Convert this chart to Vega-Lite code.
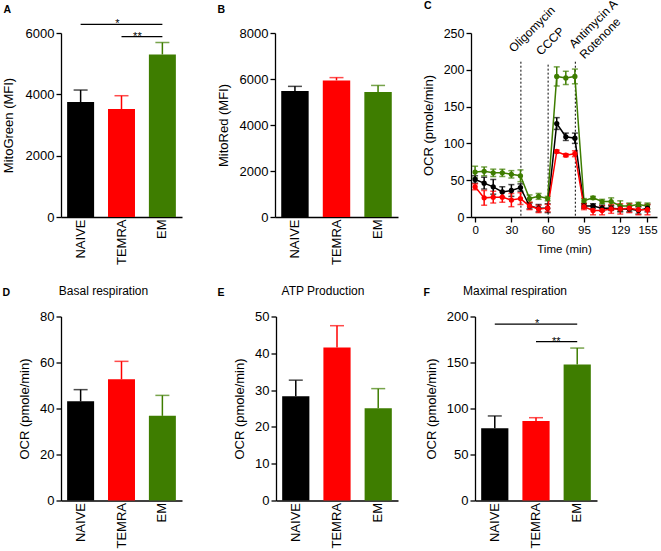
{
  "$schema": "https://vega.github.io/schema/vega-lite/v6.json",
  "padding": {"left": 2, "top": -4, "right": 2, "bottom": 2},
  "background": "white",
  "spacing": 19.5,
  "config": {
    "font": "Liberation Sans",
    "view": {"stroke": null},
    "axis": {"grid": false, "domainColor": "#000", "domainWidth": 1.3, "tickColor": "#000", "tickWidth": 1.3, "tickSize": 5, "labelColor": "#000", "titleColor": "#000", "titleFontWeight": "normal", "labelFontSize": 13, "titleFontSize": 13, "labelPadding": 2, "titlePadding": 7, "labelOverlap": false, "labelFlush": false},
    "title": {"color": "#000"}
  },
  "vconcat": [
    {
      "spacing": 35,
      "hconcat": [
        {
          "width": 121, "height": 184,
          "layer": [
            {
              "data": {"values": [{"group": "NAIVE", "mean": 3750, "top": 4140}, {"group": "TEMRA", "mean": 3520, "top": 3955}, {"group": "EM", "mean": 5300, "top": 5690}]},
              "encoding": {
                "x": {"field": "group", "type": "nominal", "scale": {"domain": ["NAIVE", "TEMRA", "EM"], "paddingInner": 0.34, "paddingOuter": 0.15}, "axis": {"title": "A", "titleX": -58, "titleY": -205, "titleAngle": 0, "titleAlign": "left", "titleBaseline": "alphabetic", "titleFontWeight": "bold", "titleFontSize": 10.5, "labelAngle": -90, "ticks": false, "tickSize": 0, "labelPadding": 2}},
                "color": {"field": "group", "type": "nominal", "scale": {"domain": ["NAIVE", "TEMRA", "EM"], "range": ["#000000", "#ff0000", "#3e7d00"]}, "legend": null}
              },
              "layer": [
                {"mark": {"type": "bar"}, "encoding": {"y": {"field": "mean", "type": "quantitative", "scale": {"domain": [0, 6000], "nice": false}, "axis": {"values": [0, 2000, 4000, 6000], "tickCount": 10, "format": "d", "title": "MitoGreen (MFI)", "titlePadding": 10}}}},
                {"mark": {"type": "rule", "strokeWidth": 1.5}, "encoding": {"y": {"field": "mean", "type": "quantitative", "title": "MitoGreen (MFI)"}, "y2": {"field": "top"}}},
                {"mark": {"type": "tick", "thickness": 1.5, "size": 14}, "encoding": {"y": {"field": "top", "type": "quantitative", "title": "MitoGreen (MFI)"}}}
              ]
            },
            {
              "data": {"values": [{"from": "NAIVE", "to": "EM", "y": 6280, "label": "*"}, {"from": "TEMRA", "to": "EM", "y": 5880, "label": "**"}]},
              "layer": [
                {"mark": {"type": "rule", "strokeWidth": 1.2, "color": "#000"}, "encoding": {
                  "x": {"field": "from", "type": "nominal", "title": "A"}, "x2": {"field": "to"},
                  "y": {"field": "y", "type": "quantitative", "title": "MitoGreen (MFI)"}}},
                {"transform": [{"filter": "datum.label == '*'"}], "mark": {"type": "text", "dx": -45, "dy": 3, "fontSize": 11, "baseline": "alphabetic", "color": "#000"}, "encoding": {
                  "x": {"field": "to", "type": "nominal", "title": "A"},
                  "y": {"field": "y", "type": "quantitative", "title": "MitoGreen (MFI)"}, "text": {"field": "label"}}},
                {"transform": [{"filter": "datum.label == '**'"}], "mark": {"type": "text", "dx": -25, "dy": 3, "fontSize": 11, "baseline": "alphabetic", "color": "#000"}, "encoding": {
                  "x": {"field": "to", "type": "nominal", "title": "A"},
                  "y": {"field": "y", "type": "quantitative", "title": "MitoGreen (MFI)"}, "text": {"field": "label"}}}
              ]
            }
          ]
        },
        {
          "bounds": "flush",
          "spacing": 73,
          "hconcat": [
            {
              "width": 123, "height": 184,
              "data": {"values": [{"group": "NAIVE", "mean": 5480, "top": 5680}, {"group": "TEMRA", "mean": 5940, "top": 6060}, {"group": "EM", "mean": 5440, "top": 5720}]},
              "encoding": {
                "x": {"field": "group", "type": "nominal", "scale": {"domain": ["NAIVE", "TEMRA", "EM"], "paddingInner": 0.34, "paddingOuter": 0.15}, "axis": {"title": "B", "titleX": -58, "titleY": -205, "titleAngle": 0, "titleAlign": "left", "titleBaseline": "alphabetic", "titleFontWeight": "bold", "titleFontSize": 10.5, "labelAngle": -90, "ticks": false, "tickSize": 0, "labelPadding": 2}},
                "color": {"field": "group", "type": "nominal", "scale": {"domain": ["NAIVE", "TEMRA", "EM"], "range": ["#000000", "#ff0000", "#3e7d00"]}, "legend": null}
              },
              "layer": [
                {"mark": {"type": "bar"}, "encoding": {"y": {"field": "mean", "type": "quantitative", "scale": {"domain": [0, 8000], "nice": false}, "axis": {"values": [0, 2000, 4000, 6000, 8000], "tickCount": 10, "format": "d", "title": "MitoRed (MFI)", "titlePadding": 9}}}},
                {"mark": {"type": "rule", "strokeWidth": 1.5}, "encoding": {"y": {"field": "mean", "type": "quantitative", "title": "MitoRed (MFI)"}, "y2": {"field": "top"}}},
                {"mark": {"type": "tick", "thickness": 1.5, "size": 14}, "encoding": {"y": {"field": "top", "type": "quantitative", "title": "MitoRed (MFI)"}}}
              ]
            },
            {
              "width": 186, "height": 184,
              "title": {"text": "C", "anchor": "start", "frame": "group", "dx": -47, "offset": -23, "fontSize": 10.5, "fontWeight": "bold", "baseline": "alphabetic"},
              "layer": [
                {
                  "data": {"values": [{"m": 5.05, "top": 211, "label": "Oligomycin"}, {"m": 8.05, "top": 207, "label": "CCCP"}, {"m": 11.05, "top": 211, "label": "Antimycin A\nRotenone"}]},
                  "layer": [
                    {"mark": {"type": "rule", "strokeDash": [2, 2], "strokeWidth": 1, "color": "#000"}, "encoding": {
                      "x": {"field": "m", "type": "quantitative", "scale": {"domain": [-0.45, 20.05], "nice": false, "zero": false}, "axis": {"values": [0, 4, 8, 12, 16, 19], "tickCount": 20, "labelExpr": "datum.value == 0 ? '0' : datum.value == 4 ? '30' : datum.value == 8 ? '60' : datum.value == 12 ? '95' : datum.value == 16 ? '129' : '155'", "labelOverlap": false, "title": "Time (min)", "labelFontSize": 11.5, "titleFontSize": 11.5, "titlePadding": 8, "labelPadding": 2}},
                      "y": {"field": "top", "type": "quantitative", "scale": {"domain": [0, 250], "nice": false}, "axis": {"values": [0, 50, 100, 150, 200, 250], "tickCount": 10, "labelOverlap": false, "format": "d", "title": "OCR (pmole/min)", "labelFontSize": 12.5, "titlePadding": 8}},
                      "y2": {"datum": 0}}},
                    {"transform": [{"filter": "indexof(datum.label, 'Rotenone') < 0"}], "mark": {"type": "text", "angle": -45, "align": "left", "baseline": "alphabetic", "dx": 1.1, "dy": -11.1, "fontSize": 12, "color": "#000"}, "encoding": {
                      "x": {"field": "m", "type": "quantitative", "title": "Time (min)"},
                      "y": {"field": "top", "type": "quantitative", "title": "OCR (pmole/min)"}, "text": {"field": "label"}}},
                    {"transform": [{"filter": "indexof(datum.label, 'Rotenone') >= 0"}], "mark": {"type": "text", "angle": -45, "align": "left", "baseline": "alphabetic", "lineBreak": "\n", "lineHeight": 15, "dx": 8.1, "dy": -10.1, "fontSize": 12, "color": "#000"}, "encoding": {
                      "x": {"field": "m", "type": "quantitative", "title": "Time (min)"},
                      "y": {"field": "top", "type": "quantitative", "title": "OCR (pmole/min)"}, "text": {"field": "label"}}}
                  ]
                },
                {
                  "data": {"values": [
                    {"group": "EM", "m": 0, "ocr": 61, "sem": 8}, {"group": "EM", "m": 1, "ocr": 62, "sem": 6}, {"group": "EM", "m": 2, "ocr": 60, "sem": 5}, {"group": "EM", "m": 3, "ocr": 60, "sem": 5}, {"group": "EM", "m": 4, "ocr": 58, "sem": 5}, {"group": "EM", "m": 5, "ocr": 56, "sem": 8}, {"group": "EM", "m": 6, "ocr": 25, "sem": 5}, {"group": "EM", "m": 7, "ocr": 28, "sem": 4}, {"group": "EM", "m": 8, "ocr": 25, "sem": 3}, {"group": "EM", "m": 9, "ocr": 191, "sem": 13}, {"group": "EM", "m": 10, "ocr": 189, "sem": 9}, {"group": "EM", "m": 11, "ocr": 191, "sem": 10}, {"group": "EM", "m": 12, "ocr": 22, "sem": 3}, {"group": "EM", "m": 13, "ocr": 26, "sem": 2}, {"group": "EM", "m": 14, "ocr": 21, "sem": 3}, {"group": "EM", "m": 15, "ocr": 21, "sem": 5}, {"group": "EM", "m": 16, "ocr": 15, "sem": 7}, {"group": "EM", "m": 17, "ocr": 15, "sem": 4}, {"group": "EM", "m": 18, "ocr": 17, "sem": 3}, {"group": "EM", "m": 19, "ocr": 15, "sem": 4},
                    {"group": "NAIVE", "m": 0, "ocr": 51, "sem": 5}, {"group": "NAIVE", "m": 1, "ocr": 46, "sem": 8}, {"group": "NAIVE", "m": 2, "ocr": 41, "sem": 10}, {"group": "NAIVE", "m": 3, "ocr": 34, "sem": 7}, {"group": "NAIVE", "m": 4, "ocr": 36, "sem": 8}, {"group": "NAIVE", "m": 5, "ocr": 40, "sem": 5}, {"group": "NAIVE", "m": 6, "ocr": 15, "sem": 4}, {"group": "NAIVE", "m": 7, "ocr": 12, "sem": 5}, {"group": "NAIVE", "m": 8, "ocr": 12, "sem": 6}, {"group": "NAIVE", "m": 9, "ocr": 127, "sem": 8}, {"group": "NAIVE", "m": 10, "ocr": 109, "sem": 5}, {"group": "NAIVE", "m": 11, "ocr": 107, "sem": 7}, {"group": "NAIVE", "m": 12, "ocr": 15, "sem": 3}, {"group": "NAIVE", "m": 13, "ocr": 15, "sem": 3}, {"group": "NAIVE", "m": 14, "ocr": 12, "sem": 4}, {"group": "NAIVE", "m": 15, "ocr": 12, "sem": 3}, {"group": "NAIVE", "m": 16, "ocr": 11, "sem": 4}, {"group": "NAIVE", "m": 17, "ocr": 11, "sem": 4}, {"group": "NAIVE", "m": 18, "ocr": 9, "sem": 5}, {"group": "NAIVE", "m": 19, "ocr": 12, "sem": 5},
                    {"group": "TEMRA", "m": 0, "ocr": 41, "sem": 4}, {"group": "TEMRA", "m": 1, "ocr": 26, "sem": 10}, {"group": "TEMRA", "m": 2, "ocr": 27, "sem": 8}, {"group": "TEMRA", "m": 3, "ocr": 27, "sem": 7}, {"group": "TEMRA", "m": 4, "ocr": 23, "sem": 9}, {"group": "TEMRA", "m": 5, "ocr": 25, "sem": 8}, {"group": "TEMRA", "m": 6, "ocr": 15, "sem": 5}, {"group": "TEMRA", "m": 7, "ocr": 11, "sem": 5}, {"group": "TEMRA", "m": 8, "ocr": 12, "sem": 5}, {"group": "TEMRA", "m": 9, "ocr": 89, "sem": 2}, {"group": "TEMRA", "m": 10, "ocr": 84, "sem": 2}, {"group": "TEMRA", "m": 11, "ocr": 86, "sem": 4}, {"group": "TEMRA", "m": 12, "ocr": 14, "sem": 4}, {"group": "TEMRA", "m": 13, "ocr": 9, "sem": 6}, {"group": "TEMRA", "m": 14, "ocr": 9, "sem": 6}, {"group": "TEMRA", "m": 15, "ocr": 11, "sem": 6}, {"group": "TEMRA", "m": 16, "ocr": 11, "sem": 7}, {"group": "TEMRA", "m": 17, "ocr": 12, "sem": 6}, {"group": "TEMRA", "m": 18, "ocr": 10, "sem": 7}, {"group": "TEMRA", "m": 19, "ocr": 10, "sem": 7}
                  ]},
                  "encoding": {
                    "x": {"field": "m", "type": "quantitative", "title": "Time (min)"},
                    "color": {"field": "group", "type": "nominal", "scale": {"domain": ["NAIVE", "TEMRA", "EM"], "range": ["#000000", "#ff0000", "#3e7d00"]}, "legend": null}
                  },
                  "layer": [
                    {"mark": {"type": "errorbar", "thickness": 1.5, "ticks": {"size": 6}}, "encoding": {"y": {"field": "ocr", "type": "quantitative", "title": "OCR (pmole/min)"}, "yError": {"field": "sem"}}},
                    {"mark": {"type": "line", "strokeWidth": 1.5}, "encoding": {"y": {"field": "ocr", "type": "quantitative", "title": "OCR (pmole/min)"}}},
                    {"mark": {"type": "point", "filled": true, "size": 28, "opacity": 1}, "encoding": {"y": {"field": "ocr", "type": "quantitative", "title": "OCR (pmole/min)"}}}
                  ]
                }
              ]
            }
          ]
        }
      ]
    },
    {
      "spacing": 35,
      "hconcat": [
        {
          "width": 121, "height": 184,
          "title": {"text": "Basal respiration", "anchor": "middle", "frame": "group", "dx": -18, "offset": -20, "fontSize": 12, "fontWeight": "normal", "baseline": "alphabetic"},
          "data": {"values": [{"group": "NAIVE", "mean": 43.1, "top": 48.2}, {"group": "TEMRA", "mean": 52.7, "top": 60.5}, {"group": "EM", "mean": 36.8, "top": 45.7}]},
          "encoding": {
            "x": {"field": "group", "type": "nominal", "scale": {"domain": ["NAIVE", "TEMRA", "EM"], "paddingInner": 0.34, "paddingOuter": 0.15}, "axis": {"title": "D", "titleX": -59, "titleY": -205.5, "titleAngle": 0, "titleAlign": "left", "titleBaseline": "alphabetic", "titleFontWeight": "bold", "titleFontSize": 10.5, "labelAngle": -90, "ticks": false, "tickSize": 0, "labelPadding": 2}},
            "color": {"field": "group", "type": "nominal", "scale": {"domain": ["NAIVE", "TEMRA", "EM"], "range": ["#000000", "#ff0000", "#3e7d00"]}, "legend": null}
          },
          "layer": [
            {"mark": {"type": "bar"}, "encoding": {"y": {"field": "mean", "type": "quantitative", "scale": {"domain": [0, 80], "nice": false}, "axis": {"values": [0, 20, 40, 60, 80], "tickCount": 10, "format": "d", "title": "OCR (pmole/min)", "titlePadding": 8}}}},
            {"mark": {"type": "rule", "strokeWidth": 1.5}, "encoding": {"y": {"field": "mean", "type": "quantitative", "title": "OCR (pmole/min)"}, "y2": {"field": "top"}}},
            {"mark": {"type": "tick", "thickness": 1.5, "size": 14}, "encoding": {"y": {"field": "top", "type": "quantitative", "title": "OCR (pmole/min)"}}}
          ]
        },
        {
          "bounds": "flush",
          "spacing": 77,
          "hconcat": [
            {
              "width": 122, "height": 184,
              "title": {"text": "ATP Production", "anchor": "middle", "frame": "group", "dx": -14, "offset": -20, "fontSize": 12, "fontWeight": "normal", "baseline": "alphabetic"},
              "data": {"values": [{"group": "NAIVE", "mean": 28.3, "top": 32.7}, {"group": "TEMRA", "mean": 41.6, "top": 47.5}, {"group": "EM", "mean": 25.1, "top": 30.4}]},
              "encoding": {
                "x": {"field": "group", "type": "nominal", "scale": {"domain": ["NAIVE", "TEMRA", "EM"], "paddingInner": 0.34, "paddingOuter": 0.15}, "axis": {"title": "E", "titleX": -59, "titleY": -205.5, "titleAngle": 0, "titleAlign": "left", "titleBaseline": "alphabetic", "titleFontWeight": "bold", "titleFontSize": 10.5, "labelAngle": -90, "ticks": false, "tickSize": 0, "labelPadding": 2}},
                "color": {"field": "group", "type": "nominal", "scale": {"domain": ["NAIVE", "TEMRA", "EM"], "range": ["#000000", "#ff0000", "#3e7d00"]}, "legend": null}
              },
              "layer": [
                {"mark": {"type": "bar"}, "encoding": {"y": {"field": "mean", "type": "quantitative", "scale": {"domain": [0, 50], "nice": false}, "axis": {"values": [0, 10, 20, 30, 40, 50], "tickCount": 10, "format": "d", "title": "OCR (pmole/min)", "titlePadding": 8}}}},
                {"mark": {"type": "rule", "strokeWidth": 1.5}, "encoding": {"y": {"field": "mean", "type": "quantitative", "title": "OCR (pmole/min)"}, "y2": {"field": "top"}}},
                {"mark": {"type": "tick", "thickness": 1.5, "size": 14}, "encoding": {"y": {"field": "top", "type": "quantitative", "title": "OCR (pmole/min)"}}}
              ]
            },
            {
              "width": 122, "height": 184,
              "title": {"text": "Maximal respiration", "anchor": "middle", "frame": "group", "dx": -21, "offset": -20, "fontSize": 12, "fontWeight": "normal", "baseline": "alphabetic"},
              "layer": [
                {
                  "data": {"values": [{"group": "NAIVE", "mean": 78.6, "top": 91.9}, {"group": "TEMRA", "mean": 86.5, "top": 90}, {"group": "EM", "mean": 147.8, "top": 165.7}]},
                  "encoding": {
                    "x": {"field": "group", "type": "nominal", "scale": {"domain": ["NAIVE", "TEMRA", "EM"], "paddingInner": 0.34, "paddingOuter": 0.15}, "axis": {"title": "F", "titleX": -52, "titleY": -205.5, "titleAngle": 0, "titleAlign": "left", "titleBaseline": "alphabetic", "titleFontWeight": "bold", "titleFontSize": 10.5, "labelAngle": -90, "ticks": false, "tickSize": 0, "labelPadding": 2}},
                    "color": {"field": "group", "type": "nominal", "scale": {"domain": ["NAIVE", "TEMRA", "EM"], "range": ["#000000", "#ff0000", "#3e7d00"]}, "legend": null}
                  },
                  "layer": [
                    {"mark": {"type": "bar"}, "encoding": {"y": {"field": "mean", "type": "quantitative", "scale": {"domain": [0, 200], "nice": false}, "axis": {"values": [0, 50, 100, 150, 200], "tickCount": 10, "format": "d", "title": "OCR (pmole/min)", "titlePadding": 8}}}},
                    {"mark": {"type": "rule", "strokeWidth": 1.5}, "encoding": {"y": {"field": "mean", "type": "quantitative", "title": "OCR (pmole/min)"}, "y2": {"field": "top"}}},
                    {"mark": {"type": "tick", "thickness": 1.5, "size": 14}, "encoding": {"y": {"field": "top", "type": "quantitative", "title": "OCR (pmole/min)"}}}
                  ]
                },
                {
                  "data": {"values": [{"from": "NAIVE", "to": "EM", "y": 191.7, "label": "*"}, {"from": "TEMRA", "to": "EM", "y": 172.6, "label": "**"}]},
                  "layer": [
                    {"mark": {"type": "rule", "strokeWidth": 1.2, "color": "#000"}, "encoding": {
                      "x": {"field": "from", "type": "nominal", "title": "F"}, "x2": {"field": "to"},
                      "y": {"field": "y", "type": "quantitative", "title": "OCR (pmole/min)"}}},
                    {"transform": [{"filter": "datum.label == '*'"}], "mark": {"type": "text", "dx": -40, "dy": 3, "fontSize": 11, "baseline": "alphabetic", "color": "#000"}, "encoding": {
                      "x": {"field": "to", "type": "nominal", "title": "F"},
                      "y": {"field": "y", "type": "quantitative", "title": "OCR (pmole/min)"}, "text": {"field": "label"}}},
                    {"transform": [{"filter": "datum.label == '**'"}], "mark": {"type": "text", "dx": -21, "dy": 3, "fontSize": 11, "baseline": "alphabetic", "color": "#000"}, "encoding": {
                      "x": {"field": "to", "type": "nominal", "title": "F"},
                      "y": {"field": "y", "type": "quantitative", "title": "OCR (pmole/min)"}, "text": {"field": "label"}}}
                  ]
                }
              ]
            }
          ]
        }
      ]
    }
  ]
}
